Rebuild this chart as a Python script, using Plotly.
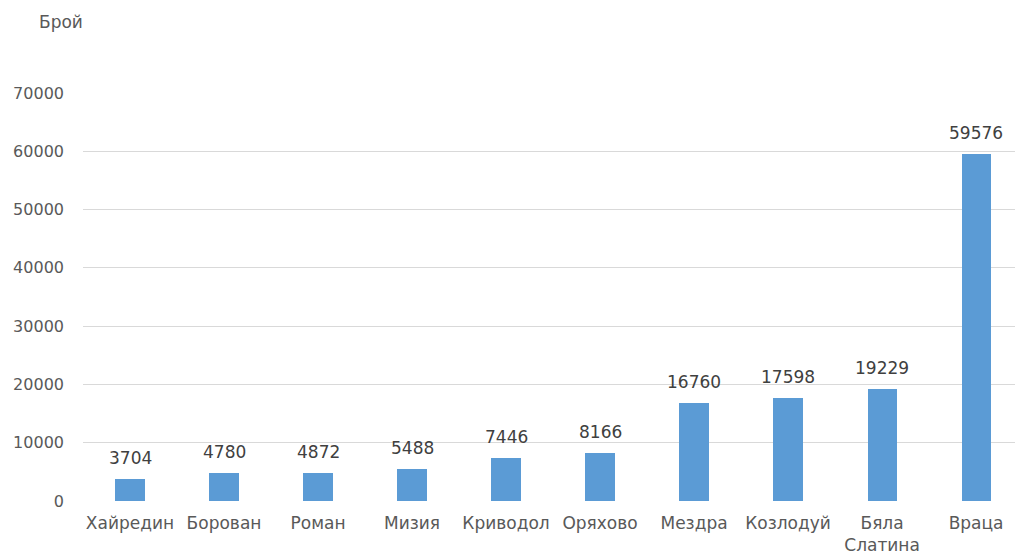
import plotly.graph_objects as go

categories = ["Хайредин", "Борован", "Роман", "Мизия", "Криводол", "Оряхово",
              "Мездра", "Козлодуй", "Бяла<br>Слатина", "Враца"]
values = [3704, 4780, 4872, 5488, 7446, 8166, 16760, 17598, 19229, 59576]
y_ticks = [0, 10000, 20000, 30000, 40000, 50000, 60000, 70000]

FONT = "DejaVu Sans, Verdana, sans-serif"

xs = list(range(len(categories)))

fig = go.Figure(go.Bar(
    x=xs,
    y=values,
    width=0.31,
    marker=dict(color="#5B9BD5", line=dict(width=0)),
    hoverinfo="skip",
))

annotations = [dict(
    x=x, y=v, xref="x", yref="y", text=str(v),
    xanchor="center", yanchor="bottom", yshift=9, showarrow=False,
    font=dict(family=FONT, size=17, color="#404040"),
) for x, v in zip(xs, values)]

annotations.append(dict(
    text="Брой", xref="paper", yref="paper",
    x=(37 - 83) / 932, y=(501 - 22) / 408,
    xanchor="left", yanchor="middle", showarrow=False,
    font=dict(family=FONT, size=17, color="#595959"),
))

fig.update_layout(
    width=1015, height=552,
    margin=dict(l=83, r=0, t=93, b=51, autoexpand=False),
    paper_bgcolor="white", plot_bgcolor="white",
    showlegend=False,
    font=dict(family=FONT, size=16, color="#595959"),
    bargap=0,
    xaxis=dict(
        tickmode="array",
        tickvals=xs,
        ticktext=categories,
        range=[-0.5, 9.414],
        showgrid=False, zeroline=False, showline=False,
        ticks="", ticklabelstandoff=10, automargin=False,
        tickfont=dict(family=FONT, size=17, color="#595959"),
    ),
    yaxis=dict(
        range=[0, 70000],
        tickmode="array", tickvals=y_ticks,
        ticktext=[str(t) for t in y_ticks],
        showgrid=True, gridcolor="#D9D9D9", gridwidth=1.3,
        zeroline=False, showline=False,
        ticks="", ticklabelstandoff=18, automargin=False,
        tickfont=dict(family=FONT, size=16, color="#595959"),
    ),
    annotations=annotations,
)

fig.write_html(
    "out.html",
    config={"displayModeBar": False},
    post_script="document.body.style.margin='0';document.body.style.overflow='hidden';",
)
